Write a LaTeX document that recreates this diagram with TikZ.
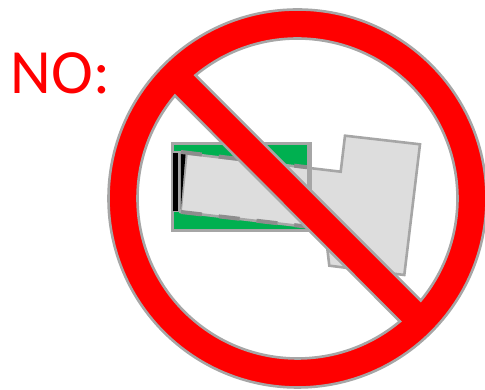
\documentclass[tikz,border=0pt]{standalone}
\usepackage{fontspec}
\setmainfont{Carlito}
\usepackage{xcolor}
\usetikzlibrary{calc, positioning}
\definecolor{edgegray}{HTML}{A6A6A6}
\definecolor{cardgreen}{HTML}{00B050}
\definecolor{handgray}{HTML}{DDDDDD}
\tikzset{
    outline/.style={draw=edgegray, line width=2.6pt, line join=miter},
    cardedge/.style={draw=edgegray!85!black, line width=4pt, dash pattern=on 21pt off 17pt},
}

\begin{document}
\begin{tikzpicture}[x=1pt, y=1pt]
    \useasboundingbox (0,0) rectangle (485,390);
    \coordinate (ringc) at (297.5,191.5);

    % card behind the hand
    \draw[draw=edgegray, line width=3pt, fill=cardgreen] (172.5,159.5) rectangle (310,246.5);
    \fill[edgegray] (172,178) rectangle (188,239);
    \fill[black] (172.7,179.3) rectangle (178.3,236.7);

    % hand
    \draw[outline, fill=handgray] (186.5,236.5) -- (340.7,218.3) -- (345,254.3) -- (420,245.7)
        -- (404.3,115) -- (329.3,124.3) -- (325,161) -- (180.5,178) -- cycle;
    \fill[black] (181,236.7) -- (185.6,236) -- (180.8,181) -- cycle;
    \coordinate (topa) at (181,238);
    \coordinate (topb) at (311,222.3);
    \coordinate (lowa) at (181,178);
    \coordinate (lowb) at (306,163.5);
    \draw[cardedge] (lowa) -- (lowb);
    \draw[cardedge] (topa) -- (topb);
    \draw[draw=edgegray, line width=5pt] (309.2,158) -- (309.2,248);

    % ring and bar
    \path[outline, fill=red, even odd rule] (ringc) circle (189)
        ($(ringc)+(129.6:160)$) arc[start angle=129.6, end angle=-39.6, radius=160] -- cycle
        ($(ringc)+(140:160)$) arc[start angle=140, end angle=309.8, radius=160] -- cycle;

    \node[anchor=base west, inner sep=0pt, text=red, font=\fontsize{63}{63}\selectfont] (nolabel) at (10.5,296) {NO:};
\end{tikzpicture}
\end{document}
